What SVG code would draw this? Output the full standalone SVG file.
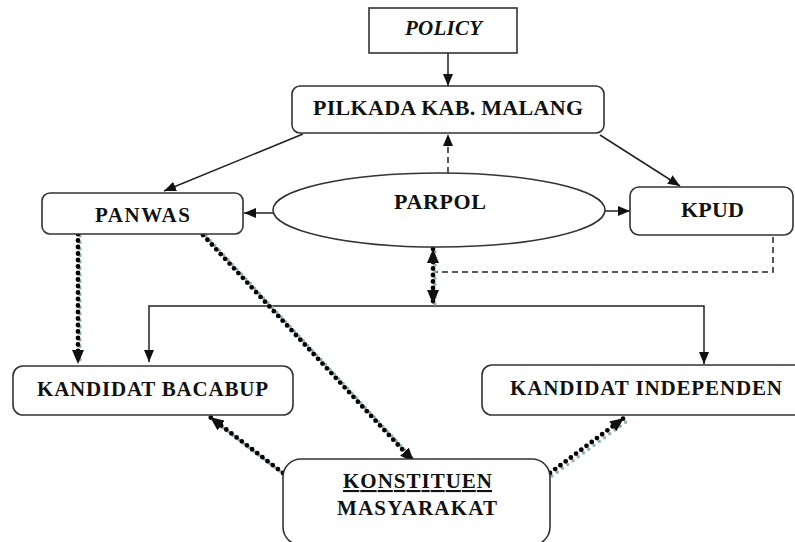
<svg xmlns="http://www.w3.org/2000/svg" width="795" height="542" viewBox="0 0 795 542">
<style>
.box{fill:#fff;stroke:#333;stroke-width:1.6}
.t{font-family:"Liberation Serif","Times New Roman",serif;font-weight:bold;fill:#111;text-anchor:middle}
.ln{fill:none;stroke:#222;stroke-width:1.5}
.dash{fill:none;stroke:#222;stroke-width:1.5;stroke-dasharray:6 4}
.dotsh{fill:none;stroke:#8fb1ba;stroke-width:3.5;stroke-linecap:round;stroke-dasharray:0 6.5}
.dot{fill:none;stroke:#000;stroke-width:4.8;stroke-linecap:round;stroke-dasharray:0 6.5}
</style>
<defs>
<marker id="ah" viewBox="0 0 12 10" refX="12" refY="5" markerWidth="12" markerHeight="10" markerUnits="userSpaceOnUse" orient="auto-start-reverse">
<path d="M0,0 L12,5 L0,10 z" fill="#111"/>
</marker>
<marker id="ahb" viewBox="0 0 14 12" refX="14" refY="6" markerWidth="14" markerHeight="12" markerUnits="userSpaceOnUse" orient="auto-start-reverse">
<path d="M0,0 L14,6 L0,12 z" fill="#111"/>
</marker>
</defs>
<rect width="795" height="542" fill="#fff"/>
<g id="connectors">
<path class="ln" d="M448,53 L448,86" marker-end="url(#ah)"/>
<path class="ln" d="M303,134 L164,191" marker-end="url(#ah)"/>
<path class="ln" d="M600,135 L680,186" marker-end="url(#ah)"/>
<path class="dash" d="M448,173 L448,134" marker-end="url(#ah)"/>
<path class="ln" d="M273,213 L244,213" marker-end="url(#ah)"/>
<path class="ln" d="M605,211 L630,211" marker-end="url(#ah)"/>
<path class="dash" d="M773,237 L773,272 L435,272"/>
<path class="ln" d="M149,362 L149,306 L704,306 L704,364" marker-start="url(#ah)" marker-end="url(#ah)"/>
<g id="dotted">
<path class="dotsh" d="M435,252 L435,305"/>
<path class="dot" d="M433,249 L433,304" marker-start="url(#ahb)" marker-end="url(#ahb)"/>
<path class="dotsh" d="M80,236 L80,365"/>
<path class="dot" d="M78,234 L78,364" marker-end="url(#ahb)"/>
<path class="dotsh" d="M206,236 L416,462"/>
<path class="dot" d="M203,235 L414,462" marker-end="url(#ahb)"/>
<path class="dotsh" d="M285,475 L213,420"/>
<path class="dot" d="M283,473 L210,417" marker-end="url(#ahb)"/>
<path class="dotsh" d="M552,476 L626,422"/>
<path class="dot" d="M550,473 L624,418" marker-end="url(#ahb)"/>
</g>
</g>
<g id="policy">
<rect class="box" x="369" y="8" width="148" height="45"/>
<text class="t" x="443.5" y="35" font-size="21" font-style="italic" textLength="77">POLICY</text>
</g>
<g id="pilkada">
<rect class="box" x="292" y="86" width="312" height="47" rx="8"/>
<text class="t" x="448" y="115" font-size="22" textLength="270">PILKADA KAB. MALANG</text>
</g>
<g id="panwas">
<rect class="box" x="42" y="193" width="201" height="41" rx="8"/>
<text class="t" x="142.5" y="222" font-size="21" textLength="95">PANWAS</text>
</g>
<g id="parpol">
<ellipse class="box" cx="439" cy="210" rx="166" ry="37"/>
<text class="t" x="440" y="209" font-size="22" textLength="92">PARPOL</text>
</g>
<g id="kpud">
<rect class="box" x="630" y="187" width="163" height="48" rx="9"/>
<text class="t" x="712.5" y="217" font-size="22" textLength="63">KPUD</text>
</g>
<g id="bacabup">
<rect class="box" x="13" y="366" width="280" height="49" rx="10"/>
<text class="t" x="152.5" y="396" font-size="21" textLength="231">KANDIDAT BACABUP</text>
</g>
<g id="independen">
<rect class="box" x="482" y="365" width="330" height="50" rx="10"/>
<text class="t" x="646" y="395" font-size="21" textLength="272">KANDIDAT INDEPENDEN</text>
</g>
<g id="konstituen">
<rect class="box" x="283" y="459" width="267" height="86" rx="18"/>
<text class="t" x="417.5" y="488" font-size="21" textLength="149" text-decoration="underline">KONSTITUEN</text>
<text class="t" x="417" y="515" font-size="21" textLength="160">MASYARAKAT</text>
</g>
</svg>
